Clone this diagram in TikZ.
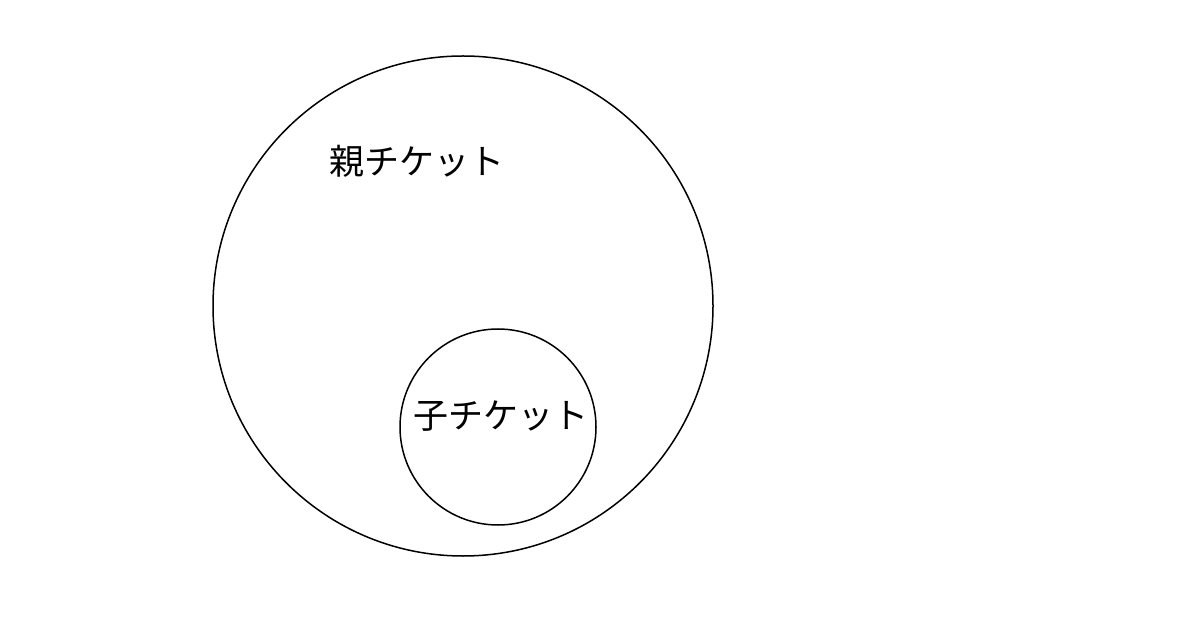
\documentclass[tikz,border=0pt]{standalone}
\usepackage{fontspec}
\newfontfamily\cjk{Noto Sans CJK JP}
\usetikzlibrary{positioning}

\begin{document}
\begin{tikzpicture}[
        x = 1pt,
        y = -1pt,
        ring/.style = {
                draw,
                circle,
                line width = 1.5pt,
                minimum size = #1,
                inner sep = 0pt,
                outer sep = 0pt
            },
            ring/.default = 100pt,
        label/.style = {
                font = \cjk\fontsize{35}{40}\selectfont,
                inner sep = 0pt
            }
        ]
        \useasboundingbox (0,0) rectangle (1200,620);
        \node[ring=500pt] (parent) at (463,306) {};
        \node[ring=196pt] (child) at (498,427) {};

        \node[label] (parenttext) at (417,161) {親チケット};
        \node[label] (childtext) at (501,416) {子チケット};
    \end{tikzpicture}
\end{document}
